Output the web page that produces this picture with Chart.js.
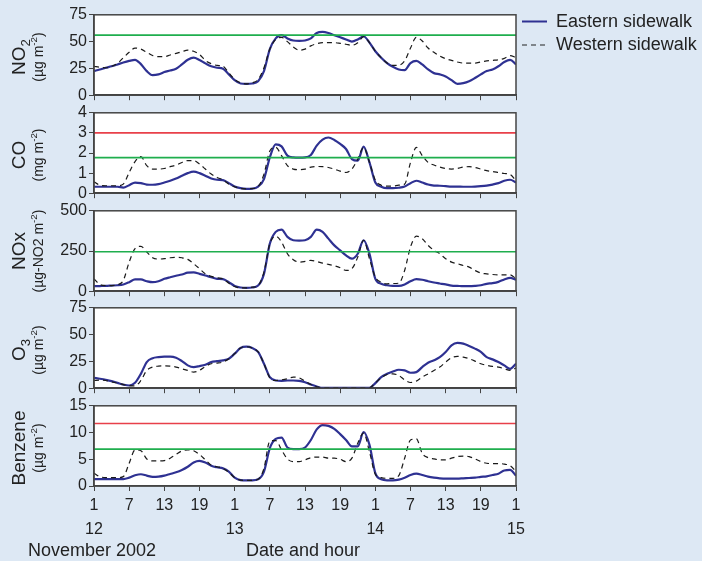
<!DOCTYPE html>
<html>
<head>
<meta charset="utf-8">
<script src="https://cdn.jsdelivr.net/npm/chart.js@4.4.1/dist/chart.umd.min.js"></script>
<style>
  body { margin: 0; background: #dde8f4; font-family: "Liberation Sans", Arial, sans-serif; color: #222; }
  #wrap { position: relative; width: 702px; height: 561px; overflow: hidden; }
  canvas { position: absolute; left: 0; }
  .yt { position: absolute; left: 27px; transform: translate(-50%, -50%) rotate(-90deg); text-align: center; white-space: nowrap; }
  .t1 { font-size: 19px; line-height: 22px; }
  .t2 { font-size: 14px; line-height: 16px; }
  sub, sup { font-size: 70%; line-height: 0; }
  .lab { position: absolute; font-size: 18px; line-height: 20px; white-space: nowrap; }
</style>
</head>
<body>
<div id="wrap">
  <canvas id="c0" width="530" height="102" style="top:4px"></canvas>
  <canvas id="c1" width="530" height="102" style="top:102px"></canvas>
  <canvas id="c2" width="530" height="102" style="top:200px"></canvas>
  <canvas id="c3" width="530" height="102" style="top:297px"></canvas>
  <canvas id="c4" width="530" height="144" style="top:395px"></canvas>

  <div class="yt" style="top:57px"><div class="t1">NO<sub>2</sub></div><div class="t2">(µg m<sup>-2</sup>)</div></div>
  <div class="yt" style="top:155px"><div class="t1">CO</div><div class="t2">(mg m<sup>-2</sup>)</div></div>
  <div class="yt" style="top:251px"><div class="t1">NOx</div><div class="t2">(µg-NO2 m<sup>-2</sup>)</div></div>
  <div class="yt" style="top:350px"><div class="t1">O<sub>3</sub></div><div class="t2">(µg m<sup>-2</sup>)</div></div>
  <div class="yt" style="top:448px"><div class="t1">Benzene</div><div class="t2">(µg m<sup>-2</sup>)</div></div>

  <svg style="position:absolute;left:522px;top:14px" width="26" height="40">
    <line x1="0" y1="7.5" x2="25" y2="7.5" stroke="#2e3192" stroke-width="2"/>
    <line x1="0" y1="31" x2="25" y2="31" stroke="#222" stroke-width="1.2" stroke-dasharray="5,4"/>
  </svg>
  <div class="lab" style="left:556px;top:11px">Eastern sidewalk</div>
  <div class="lab" style="left:556px;top:34px">Western sidewalk</div>

  <div class="lab" style="left:28px;top:540px">November 2002</div>
  <div class="lab" style="left:246px;top:540px">Date and hour</div>
</div>
<script>
// x positions: hours since 01:00 on the 12th
const hours = Array.from({ length: 73 }, (_, i) => i);
const hourLabels = ["1", "7", "13", "19"];
const dayLabels = ["12", "13", "14", "15"];

const eastNO2 = [22.5, 24, 25.6, 27, 28.7, 30.5, 32, 33, 29, 22.5, 18.7, 19.4, 21.6, 23, 24.7, 28.7, 33, 35, 32.8, 29.7, 27, 25.6, 24.7, 19.4,
  14, 10.9, 10.6, 10.9, 13, 22.5, 43, 53, 56, 53, 51, 50.6, 51, 53, 58, 59, 58, 56, 54, 52, 50, 52, 55, 49,
  41, 35, 30, 26.5, 24, 23.4, 30, 32, 28.7, 24, 20.6, 19.4, 17.5, 14, 10.6, 11.2, 13, 16, 19.4, 22.5, 24, 27, 31, 33, 28.7];
const westNO2 = [27, 26, 25.6, 27, 29.7, 35, 40, 44, 43, 40, 37, 36, 36, 37.5, 39, 40.6, 42, 41, 38, 32.5, 29.4, 27.8, 27, 21,
  14.7, 11.6, 10.6, 11.6, 14.7, 25.6, 43, 52, 54, 50, 45, 42, 43, 46, 48, 49, 49, 49, 48.4, 47.5, 46.6, 49, 54.7, 49,
  41, 35, 30, 27.8, 28, 32, 44, 54, 50.6, 44, 40, 36.5, 34, 32.5, 31, 30, 30, 30, 31, 32, 32.5, 33, 34.4, 37, 35];

const eastCO = [0.32, 0.32, 0.32, 0.32, 0.32, 0.28, 0.4, 0.53, 0.5, 0.43, 0.42, 0.45, 0.53, 0.62, 0.73, 0.87, 1.0, 1.07, 1.0, 0.87, 0.73, 0.67, 0.65, 0.5,
  0.33, 0.25, 0.22, 0.23, 0.33, 0.7, 1.78, 2.43, 2.33, 1.87, 1.78, 1.77, 1.78, 1.9, 2.37, 2.67, 2.77, 2.65, 2.45, 2.2, 1.7, 1.62, 2.32, 1.53,
  0.53, 0.32, 0.25, 0.25, 0.27, 0.33, 0.5, 0.62, 0.53, 0.43, 0.38, 0.37, 0.35, 0.33, 0.33, 0.32, 0.32, 0.33, 0.35, 0.38, 0.43, 0.5, 0.62, 0.67, 0.53];
const westCO = [0.57, 0.4, 0.37, 0.37, 0.37, 0.45, 1.03, 1.57, 1.82, 1.37, 1.2, 1.2, 1.23, 1.32, 1.4, 1.53, 1.62, 1.62, 1.45, 1.2, 0.95, 0.78, 0.67, 0.45,
  0.32, 0.23, 0.22, 0.23, 0.33, 0.95, 2.1, 2.28, 1.87, 1.37, 1.2, 1.17, 1.2, 1.3, 1.33, 1.32, 1.28, 1.2, 1.1, 1.03, 1.2, 1.7, 2.28, 1.53,
  0.65, 0.4, 0.35, 0.35, 0.4, 0.45, 1.53, 2.28, 1.87, 1.53, 1.4, 1.3, 1.23, 1.2, 1.23, 1.3, 1.32, 1.28, 1.2, 1.12, 1.08, 1.03, 0.98, 0.93, 0.62];

const eastNOx = [31, 32, 33, 35, 37, 42, 56, 73, 73, 62, 56, 62, 77, 87, 96, 104, 115, 117, 108, 98, 87, 77, 75, 56,
  33, 23, 21, 23, 35, 108, 296, 369, 383, 338, 317, 315, 317, 338, 383, 369, 327, 285, 254, 223, 202, 233, 317, 233,
  77, 46, 37, 33, 33, 42, 62, 75, 71, 62, 54, 48, 42, 35, 33, 31, 31, 33, 37, 46, 50, 58, 73, 83, 71];
const westNOx = [77, 42, 35, 35, 40, 67, 181, 265, 279, 244, 208, 200, 202, 208, 210, 208, 198, 171, 140, 108, 92, 83, 77, 50,
  29, 21, 21, 25, 35, 119, 296, 342, 306, 233, 196, 181, 185, 192, 185, 175, 167, 158, 146, 129, 140, 212, 317, 202,
  87, 56, 46, 48, 50, 129, 275, 342, 327, 285, 254, 233, 202, 181, 171, 160, 150, 129, 113, 108, 104, 102, 102, 102, 77];

const eastO3 = [9.7, 8.8, 7.8, 6.6, 5, 3.4, 2.5, 5, 13.4, 24.4, 28, 29, 29.4, 29.4, 28.4, 25.3, 21.3, 19.7, 20.6, 21.9, 24.4, 25.3, 26, 27.5,
  32.2, 37.5, 38.7, 37.5, 33.8, 22.8, 10.3, 7.2, 6.9, 7.2, 7.2, 6.9, 5.6, 3.4, 1.6, 0.3, 0.3, 0.3, 0.3, 0.3, 0.3, 0.3, 0.3, 0.3,
  4.7, 10.3, 13.4, 15.6, 17.2, 16.6, 14.4, 15, 19.7, 23.8, 26, 29, 33.8, 40, 42.2, 41.6, 39.4, 36.9, 33.8, 29, 26.9, 24.4, 21.3, 18.1, 22.8];
const westO3 = [7.2, 7.5, 7.2, 5.9, 4.7, 3.4, 2.5, 2.2, 7.2, 16.6, 19.7, 20.6, 20.9, 20.6, 19.7, 18.1, 16.6, 15, 16.6, 20.3, 22.8, 23.4, 24.4, 27.5,
  32.2, 37.5, 38.7, 37.5, 33.8, 22.8, 9.7, 7.2, 7.8, 8.8, 10.3, 9.7, 6.6, 3.4, 1.3, 0.3, 0.3, 0.3, 0.3, 0.3, 0.3, 0.3, 0.3, 0.3,
  5, 9.7, 12.8, 13.4, 11.9, 7.8, 5.3, 6.6, 10.3, 13.4, 16.6, 19.7, 24.4, 28.4, 29.7, 29, 27.5, 25.3, 22.8, 21.3, 20.3, 19.7, 18.1, 16.6, 18.8];

const eastBenzene = [1.3, 1.3, 1.3, 1.3, 1.3, 1.3, 1.56, 2.0, 2.2, 1.94, 1.7, 1.75, 1.94, 2.25, 2.56, 3.0, 3.6, 4.4, 4.7, 4.4, 3.8, 3.5, 3.3, 2.7,
  1.56, 1.1, 1.06, 1.06, 1.25, 2.7, 7.06, 8.8, 9.06, 7.2, 6.9, 6.9, 7.2, 8.6, 10.6, 11.4, 11.25, 10.7, 9.7, 8.6, 7.4, 7.4, 10.1, 7.7,
  2.4, 1.25, 1.06, 1.06, 1.2, 1.56, 2.06, 2.3, 2.06, 1.75, 1.56, 1.44, 1.38, 1.38, 1.38, 1.44, 1.5, 1.56, 1.7, 1.8, 2.06, 2.3, 2.9, 3.0, 1.94];
const westBenzene = [2.4, 1.75, 1.56, 1.56, 1.56, 1.75, 4.25, 6.75, 6.6, 5.06, 4.7, 4.7, 4.75, 5.2, 5.9, 6.56, 6.75, 6.6, 5.9, 4.9, 3.9, 3.6, 3.3, 2.56,
  1.56, 1.1, 1.06, 1.06, 1.25, 3.3, 8.4, 8.5, 6.75, 5.06, 4.56, 4.56, 4.9, 5.3, 5.4, 5.4, 5.2, 5.2, 5.0, 4.56, 5.2, 8.0, 9.9, 6.4,
  2.2, 1.56, 1.44, 1.44, 1.94, 5.2, 8.6, 8.8, 6.1, 5.3, 5.06, 4.9, 4.9, 5.2, 5.5, 5.6, 5.5, 5.06, 4.56, 4.25, 4.2, 4.2, 4.1, 3.8, 2.7];

// limit values (green = guideline, red = limit)
const greenLimits = [56, 1.77, 245, null, 6.9];
const redLimits = [null, 3, null, null, 11.7];
const yMaxes = [75, 4, 500, 75, 15];
const ySteps = [25, 1, 250, 25, 5];

const EAST = "#2e3192", WEST = "#1a1a1a", GREEN = "#1fae4e", RED = "#e8404a", AXIS = "#444";

const frame = {
  id: "frame",
  beforeDraw(chart) {
    const { ctx, chartArea: a } = chart;
    ctx.save();
    ctx.fillStyle = "#fff";
    ctx.fillRect(a.left, a.top, a.width, a.height);
    ctx.restore();
  },
  afterDraw(chart) {
    const { ctx, chartArea: a } = chart;
    ctx.save();
    ctx.strokeStyle = AXIS;
    ctx.lineWidth = 1.5;
    ctx.strokeRect(a.left, a.top, a.width, a.height);
    ctx.restore();
  },
};

function pts(arr) {
  return arr.map((v, i) => ({ x: hours[i], y: v }));
}

function hourTick(v) {
  const h = hourLabels[(v % 24) / 6];
  return v % 24 === 0 ? [h, dayLabels[v / 24]] : [h, ""];
}

function makePanel(i, east, west) {
  const bottom = i === 4;
  const datasets = [];
  if (greenLimits[i] !== null)
    datasets.push({ data: [{ x: 0, y: greenLimits[i] }, { x: 72, y: greenLimits[i] }], borderColor: GREEN, borderWidth: 1.6, pointRadius: 0 });
  if (redLimits[i] !== null)
    datasets.push({ data: [{ x: 0, y: redLimits[i] }, { x: 72, y: redLimits[i] }], borderColor: RED, borderWidth: 1.6, pointRadius: 0 });
  datasets.push({ label: "Western sidewalk", data: pts(west), borderColor: WEST, borderWidth: 1.2, borderDash: [5, 4], pointRadius: 0, cubicInterpolationMode: "monotone" });
  datasets.push({ label: "Eastern sidewalk", data: pts(east), borderColor: EAST, borderWidth: 2.2, pointRadius: 0, cubicInterpolationMode: "monotone" });

  new Chart(document.getElementById("c" + i), {
    type: "line",
    data: { datasets },
    options: {
      responsive: false,
      animation: false,
      layout: { padding: { top: 10, right: 14, bottom: 0, left: 0 } },
      plugins: { legend: { display: false }, tooltip: { enabled: false } },
      scales: {
        x: {
          type: "linear", min: 0, max: 72,
          grid: { drawOnChartArea: false, tickLength: 5, color: AXIS },
          border: { color: AXIS, width: 1.5 },
          ticks: {
            display: bottom, stepSize: 6, autoSkip: false, maxRotation: 0, padding: 3,
            color: "#222", font: { family: "Liberation Sans, Arial", size: 16, lineHeight: 1.5 },
            callback: hourTick,
          },
          afterFit: (s) => { s.height = bottom ? 53 : 6; },
        },
        y: {
          min: 0, max: yMaxes[i],
          grid: { drawOnChartArea: false, tickLength: 5, color: AXIS },
          border: { color: AXIS, width: 1.5 },
          ticks: { stepSize: ySteps[i], autoSkip: false, padding: 2, color: "#222", font: { family: "Liberation Sans, Arial", size: 16, lineHeight: 1.1 } },
          afterFit: (s) => { s.width = 94; },
        },
      },
    },
    plugins: [frame],
  });
}

makePanel(0, eastNO2, westNO2);
makePanel(1, eastCO, westCO);
makePanel(2, eastNOx, westNOx);
makePanel(3, eastO3, westO3);
makePanel(4, eastBenzene, westBenzene);
</script>
</body>
</html>
